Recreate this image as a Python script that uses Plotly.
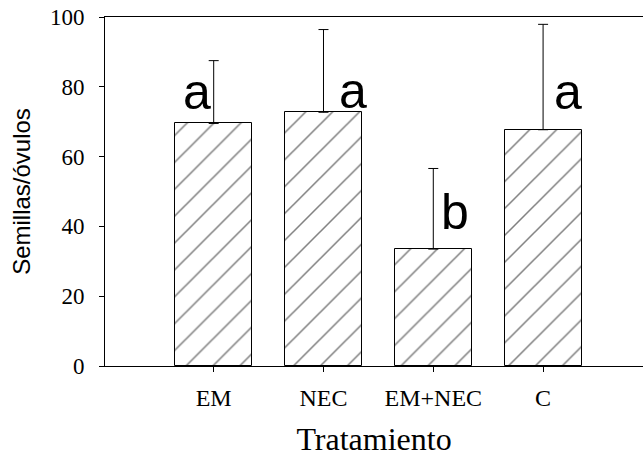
import plotly.graph_objects as go

categories = ["EM", "NEC", "EM+NEC", "C"]
means = [69.5, 72.7, 33.5, 67.7]
errors = [18.0, 23.7, 23.1, 30.2]
letters = ["a", "a", "b", "a"]
letter_x = [-0.15, 1.27, 2.2, 3.23]
letter_y = [78.6, 78.9, 44.2, 78.6]
y_ticks = [0, 20, 40, 60, 80, 100]

fig = go.Figure()
fig.add_trace(go.Bar(
    x=list(range(len(categories))), y=means, width=0.7,
    marker=dict(color="white", line=dict(color="black", width=1),
                pattern=dict(shape="/", fgcolor="black", bgcolor="white", size=19, solidity=0.08)),
    error_y=dict(type="data", symmetric=False, array=errors, arrayminus=[0]*4,
                 color="black", thickness=1, width=5),
    showlegend=False,
))

for lx, ly, t in zip(letter_x, letter_y, letters):
    fig.add_annotation(x=lx, y=ly, text=t, showarrow=False,
                       font=dict(family="Liberation Sans, Arial", size=50, color="black"))

fig.update_layout(
    width=643, height=457,
    margin=dict(l=105, r=0, t=17, b=91, autoexpand=False),
    plot_bgcolor="white", paper_bgcolor="white",
    bargap=0,
)
fig.update_xaxes(
    range=[-0.99, 3.91], tickvals=list(range(len(categories))), ticktext=categories,
    automargin=False,
    showline=True, linecolor="black", linewidth=1, mirror=True,
    ticks="outside", ticklen=5, tickcolor="black", showgrid=False, zeroline=False,
    tickfont=dict(family="Liberation Serif, Times New Roman", size=24, color="black"),
    ticklabelstandoff=5,
    title=dict(text="Tratamiento", font=dict(family="Liberation Serif, Times New Roman", size=32, color="black"), standoff=22),
)
fig.update_yaxes(
    range=[0, 100], tickvals=y_ticks, automargin=False,
    showline=True, linecolor="black", linewidth=1,
    ticks="outside", ticklen=5, tickcolor="black", showgrid=False, zeroline=False,
    tickfont=dict(family="Liberation Serif, Times New Roman", size=23, color="black"),
    ticklabelstandoff=10,
    title=dict(text="Semillas/óvulos", font=dict(family="Liberation Sans, Arial", size=24, color="black"), standoff=12),
)

fig.write_html("out.html", config={"displayModeBar": False},
               post_script="document.body.style.margin='0';")
